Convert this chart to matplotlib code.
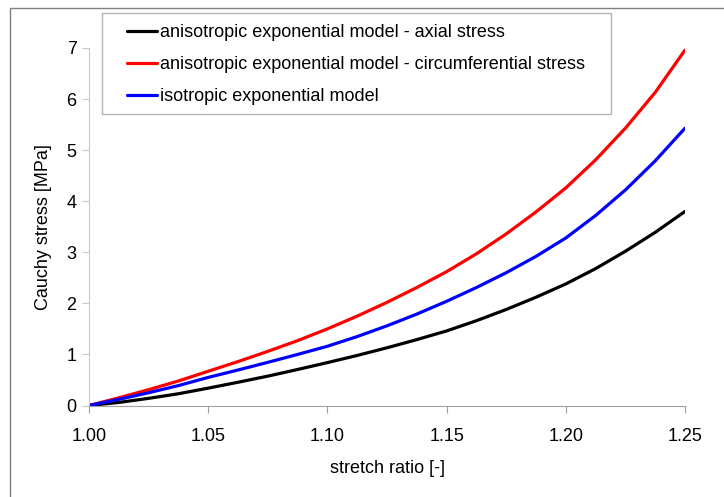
import matplotlib
matplotlib.use("Agg")
import matplotlib.pyplot as plt
from matplotlib.patches import Rectangle

plt.rcParams['font.family'] = ['Liberation Sans', 'DejaVu Sans']

stretch = [1.0, 1.0125, 1.025, 1.0375, 1.05, 1.0625, 1.075, 1.0875, 1.1, 1.1125,
           1.125, 1.1375, 1.15, 1.1625, 1.175, 1.1875, 1.2, 1.2125, 1.225, 1.2375, 1.25]
axial = [0, 0.06, 0.14, 0.23, 0.34, 0.455, 0.575, 0.705, 0.84, 0.98,
         1.13, 1.29, 1.46, 1.66, 1.88, 2.12, 2.38, 2.68, 3.02, 3.39, 3.80]
circumferential = [0, 0.15, 0.31, 0.48, 0.67, 0.86, 1.06, 1.27, 1.50, 1.75,
                   2.02, 2.31, 2.62, 2.97, 3.36, 3.79, 4.26, 4.81, 5.43, 6.13, 6.96]
isotropic = [0, 0.12, 0.25, 0.39, 0.55, 0.695, 0.845, 1.00, 1.16, 1.35,
             1.56, 1.79, 2.04, 2.31, 2.60, 2.92, 3.28, 3.72, 4.22, 4.79, 5.43]

labels = ["anisotropic exponential model - axial stress",
          "anisotropic exponential model - circumferential stress",
          "isotropic exponential model"]
x_ticks = [1.00, 1.05, 1.10, 1.15, 1.20, 1.25]
y_ticks = [0, 1, 2, 3, 4, 5, 6, 7]

W, H = 724, 497
FS = 13
fig = plt.figure(figsize=(W / 100, H / 100), dpi=100)

def fx(px):
    return px / W

def fy(py):
    return 1 - py / H

ax = fig.add_axes([fx(89), fy(405.5), fx(685) - fx(89), fy(48) - fy(405.5)])

ax.plot(stretch, axial, color='black', lw=2.3, label=labels[0], solid_capstyle='round')
ax.plot(stretch, circumferential, color='#ff0000', lw=2.3, label=labels[1], solid_capstyle='round')
ax.plot(stretch, isotropic, color='#0000ff', lw=2.3, label=labels[2], solid_capstyle='round')

ax.set_xlim(1.0, 1.25)
ax.set_ylim(0, 7)
ax.set_xticks(x_ticks)
ax.set_xticklabels([f"{v:.2f}" for v in x_ticks])
ax.set_yticks(y_ticks)

for s in ['top', 'right']:
    ax.spines[s].set_visible(False)
ax.spines['left'].set_color('#c8c8c8')
ax.spines['bottom'].set_color('#a0a0a0')
ax.tick_params(axis='x', direction='out', length=5, color='#a0a0a0', pad=11, labelsize=FS)
ax.tick_params(axis='y', direction='out', length=5, color='#c8c8c8', pad=4, labelsize=FS)

ax.set_xlabel("stretch ratio [-]", fontsize=FS, labelpad=11)
ax.set_ylabel("Cauchy stress [MPa]", fontsize=FS, labelpad=10)

# outer chart border (top and left visible)
fig.patches.append(Rectangle((fx(10), fy(H + 20)), fx(W + 20) - fx(10), fy(8) - fy(H + 20),
                             transform=fig.transFigure, fill=False, edgecolor='#808080', lw=1))
# legend frame
fig.patches.append(Rectangle((fx(101.7), fy(114)), fx(610.7) - fx(101.7), fy(12.7) - fy(114),
                             transform=fig.transFigure, fill=False, edgecolor='#b4b4b4', lw=1))

leg = fig.legend(loc='upper left', bbox_to_anchor=(fx(127), fy(24)), frameon=False,
                 fontsize=FS, handlelength=1.65, handletextpad=0.17, labelspacing=0.83,
                 borderpad=0, borderaxespad=0)

fig.savefig("out.png", dpi=100)
